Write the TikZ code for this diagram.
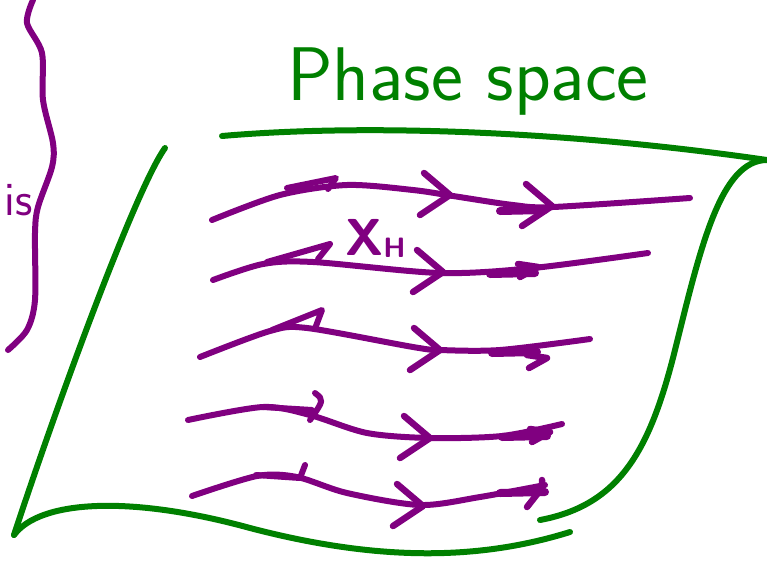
\documentclass[tikz,border=0pt]{standalone}
\usepackage{tikz}
\definecolor{inkgreen}{RGB}{0,128,0}
\definecolor{inkpurple}{RGB}{128,0,128}

\begin{document}
\begin{tikzpicture}[x=1pt, y=-1pt, line cap=round, line join=round]
        \useasboundingbox (0,0) rectangle (767,565);
        \tikzset{sheet/.style={inkgreen, line width=6pt},
                 flow/.style={inkpurple, line width=6pt},
                 chev/.style={inkpurple, line width=6.5pt}}

        % the sheet
        \draw[sheet] (222,136) .. controls (360,124) and (560,130) .. (767,160);
        \draw[sheet] (165,148) .. controls (135,190) and (55,410) .. (14,535);
        \draw[sheet] (14,535) .. controls (40,500) and (130,495) .. (250,528)
            .. controls (380,562) and (480,560) .. (570,532);
        \draw[sheet] (767,160) .. controls (720,160) and (700,250) .. (675,350)
            .. controls (650,450) and (620,505) .. (540,520);

        % the wavy line on the left
        \draw[flow] plot[smooth] coordinates {(33,0) (27,23) (42,53) (43,100)
            (53,143) (52,167) (38,207) (35,233) (35,300) (27,330) (8,350)};

        % flow lines
        \draw[flow] plot[smooth] coordinates {(212,220) (280,195) (347,185)
            (413,190) (453,196) (513,205) (553,207) (690,198)};
        \draw[flow] plot[smooth] coordinates {(213,280) (263,264) (313,262)
            (440,273) (533,268) (648,253)};
        \draw[flow] plot[smooth] coordinates {(200,357) (270,331) (307,328)
            (413,347) (440,350) (500,350) (590,339)};
        \draw[flow] plot[smooth] coordinates {(188,420) (263,407) (310,415)
            (367,433) (430,438) (502,436) (562,424)};
        \draw[flow] plot[smooth] coordinates {(192,496) (257,476) (297,477)
            (347,493) (420,505) (480,497) (545,485)};

        % arrowheads
        \foreach \x/\y in {450/195, 443/272, 440/350, 430/438, 423/506, 552/206}
            \draw[chev] (\x-26,\y-22) -- (\x,\y) -- (\x-30,\y+20);
        \foreach \x/\y in {538/267, 547/358, 550/432}
            \draw[chev] (\x-20,\y-3) -- (\x,\y) -- (\x-18,\y+10);
        \draw[chev] (542,480) -- (542,488) -- (527,507);
        \foreach \a/\b in {500/211, 490/274, 492/353, 502/437, 500/493}
            \draw[inkpurple, line width=8pt] (\a,\b) -- (\a+45,\b-1);

        % small hooked arrows
        \draw[flow] (287,188) -- (336,178) -- (328,189);
        \draw[flow] (267,262) -- (330,244) -- (318,259);
        \draw[flow] (272,330) -- (322,310) -- (316,326);
        \draw[flow] (263,407) -- (312,410);
        \draw[flow] (315,393) .. controls (324,400) .. (310,420);
        \draw[flow] (256,475) -- (300,478);
        \draw[flow] (305,465) -- (300,478);

        % labels
        \node[inkgreen, anchor=base west, inner sep=0pt] (title) at (287,100)
            {\fontsize{76}{76}\selectfont\sffamily Phase space};
        \node[inkpurple, anchor=base west, inner sep=0pt] (xh) at (345,255)
            {\fontsize{52}{52}\selectfont\sffamily\bfseries X\raisebox{-2pt}{\fontsize{28}{28}\selectfont H}};
        \node[inkpurple, anchor=base east, inner sep=0pt] (is) at (33,215)
            {\fontsize{48}{48}\selectfont\sffamily is};
\end{tikzpicture}
\end{document}
